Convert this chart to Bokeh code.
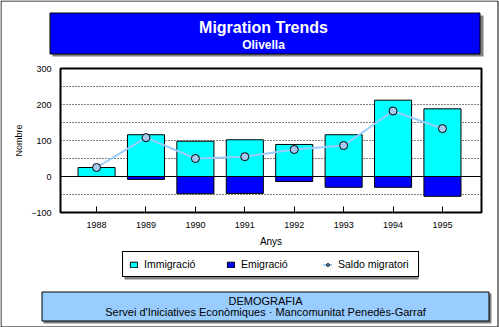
from bokeh.plotting import figure
from bokeh.models import (FixedTicker, Range1d, Label, Legend, LegendItem,
                          ColumnDataSource, LinearAxis)
from bokeh.embed import file_html
from bokeh.resources import INLINE

# ---- data ----
years = [1988, 1989, 1990, 1991, 1992, 1993, 1994, 1995]
immigracio = [25, 116, 98, 102, 89, 116, 212, 188]
emigracio = [0, -8, -48, -47, -14, -30, -30, -55]
saldo = [25, 108, 50, 55, 75, 86, 182, 133]
y_ticks = [-100, 0, 100, 200, 300]
grid_ticks = [-50, 50, 100, 150, 200, 250]

title = "Migration Trends"
subtitle = "Olivella"
footer1 = "DEMOGRAFIA"
footer2 = "Servei d'Iniciatives Econòmiques · Mancomunitat Penedès-Garraf"

FONT = "Liberation Sans"
W, H = 499, 327

# chart area inside the canvas (pixels) and its data extent
CH_LEFT, CH_RIGHT, CH_TOP, CH_BOTTOM = 60, 481, 68, 212
X_LO, X_HI = 1987.27, 1995.79
Y_LO, Y_HI = -100, 300

sx = (X_HI - X_LO) / (CH_RIGHT - CH_LEFT)
sy = (Y_HI - Y_LO) / (CH_BOTTOM - CH_TOP)

p = figure(width=W, height=H, x_range=Range1d(0, W), y_range=Range1d(H, 0),
           min_border=0, min_border_left=0, min_border_right=0,
           min_border_top=0, min_border_bottom=0,
           x_axis_location=None, y_axis_location=None,
           output_backend="svg", toolbar_location=None)
p.xgrid.visible = False
p.ygrid.visible = False
p.outline_line_color = None
p.background_fill_color = "white"
p.border_fill_color = "white"

p.extra_x_ranges = {"cx": Range1d(X_LO - CH_LEFT * sx, X_HI + (W - CH_RIGHT) * sx)}
p.extra_y_ranges = {"cy": Range1d(Y_LO - (H - CH_BOTTOM) * sy, Y_HI + CH_TOP * sy)}

src = ColumnDataSource(dict(year=years, imm=immigracio, emi=emigracio,
                            sal=saldo, zero=[0] * len(years)))
gsrc = ColumnDataSource(dict(y=grid_ticks, x0=[X_LO] * len(grid_ticks),
                             x1=[X_HI] * len(grid_ticks)))

# ---- decorations (canvas pixels) ----
# outer border
p.quad(left=[0.5], right=[497.5], top=[0.5], bottom=[326.5],
       fill_color=None, line_color="black", line_width=1)
# title box + shadow
p.quad(left=[52], right=[483], top=[15], bottom=[56], fill_color="#808080", line_color=None)
p.quad(left=[49.5], right=[479.5], top=[12.5], bottom=[53.5],
       fill_color="#0000FF", line_color="black", line_width=1)
# legend shadow
p.quad(left=[124], right=[418], top=[256], bottom=[279], fill_color="#808080", line_color=None)
# footer box + shadow
p.quad(left=[43], right=[491], top=[293], bottom=[323], fill_color="#808080", line_color=None)
p.quad(left=[41.5], right=[488.5], top=[291.5], bottom=[320.5],
       fill_color="#99CCFF", line_color="black", line_width=1)

# ---- chart ----
p.segment(x0="x0", x1="x1", y0="y", y1="y", source=gsrc, x_range_name="cx",
          y_range_name="cy", line_color="black", line_dash="1 2", line_width=1)
p.segment(x0=[X_LO], x1=[X_HI], y0=[0], y1=[0], x_range_name="cx", y_range_name="cy",
          line_color="black", line_width=1)

r_imm = p.vbar(x="year", top="imm", bottom="zero", width=0.75, source=src,
               x_range_name="cx", y_range_name="cy",
               fill_color="#00FFFF", line_color="black", line_width=1)
r_emi = p.vbar(x="year", top="zero", bottom="emi", width=0.75, source=src,
               x_range_name="cx", y_range_name="cy",
               fill_color="#0000FF", line_color="black", line_width=1)
r_line = p.line(x="year", y="sal", source=src, x_range_name="cx", y_range_name="cy",
                line_color="#99CCFF", line_width=2)
r_pts = p.scatter(x="year", y="sal", source=src, x_range_name="cx", y_range_name="cy",
                  size=8, fill_color="#A6CAF0", line_color="black", line_width=1)

# chart frame
p.quad(left=[X_LO], right=[X_HI], bottom=[Y_LO], top=[Y_HI], x_range_name="cx",
       y_range_name="cy", fill_color=None, line_color="black", line_width=2)

# axes fixed at the chart frame edges
xax = LinearAxis(x_range_name="cx", y_range_name="cy", fixed_location=Y_LO,
                 bounds=(X_LO, X_HI), ticker=FixedTicker(ticks=years))
xax.axis_line_color = None
xax.major_tick_in = 6
xax.major_tick_out = 0
xax.major_tick_line_color = "black"
xax.minor_tick_line_color = None
xax.major_label_text_font = FONT
xax.major_label_text_font_size = "9px"
xax.major_label_text_color = "black"
xax.major_label_standoff = 9
xax.axis_label = "Anys"
xax.axis_label_text_font = FONT
xax.axis_label_text_font_size = "10px"
xax.axis_label_text_font_style = "normal"
xax.axis_label_text_color = "black"
xax.axis_label_standoff = 5
p.add_layout(xax, "below")

yax = LinearAxis(x_range_name="cx", y_range_name="cy", fixed_location=X_LO,
                 bounds=(Y_LO, Y_HI), ticker=FixedTicker(ticks=y_ticks))
yax.axis_line_color = None
yax.major_tick_line_color = None
yax.minor_tick_line_color = None
yax.major_tick_in = 0
yax.major_tick_out = 0
yax.major_label_text_font = FONT
yax.major_label_text_font_size = "9px"
yax.major_label_text_color = "black"
yax.major_label_standoff = 9
yax.axis_label = "Nombre"
yax.axis_label_text_font = FONT
yax.axis_label_text_font_size = "9px"
yax.axis_label_text_font_style = "normal"
yax.axis_label_text_color = "black"
yax.axis_label_standoff = 4
p.add_layout(yax, "left")

# ---- texts ----
def label(x, y, text, size, color="black", style="normal"):
    return Label(x=x, y=y, text=text, text_font=FONT, text_font_size=size,
                 text_font_style=style, text_color=color,
                 text_align="center", text_baseline="middle")

p.add_layout(label(263, 27, title, "16px", "white", "bold"))
p.add_layout(label(263, 44, subtitle, "12px", "white", "bold"))
p.add_layout(label(265, 300, footer1, "11px"))
p.add_layout(label(265, 311, footer2, "11px"))

legend = Legend(items=[LegendItem(label="Immigració", renderers=[r_imm]),
                       LegendItem(label="Emigració", renderers=[r_emi]),
                       LegendItem(label="Saldo migratori", renderers=[r_line, r_pts])],
                location=(122, H - 277), orientation="horizontal",
                border_line_color="black", border_line_width=1, border_line_alpha=1,
                background_fill_color="white", background_fill_alpha=1,
                label_text_font=FONT, label_text_font_size="10.5px",
                label_text_color="black",
                glyph_width=9, glyph_height=7, label_height=11, label_width=74,
                label_standoff=6, spacing=8, padding=6, margin=0)
p.add_layout(legend)

open("out.html", "w").write(file_html(p, INLINE))
